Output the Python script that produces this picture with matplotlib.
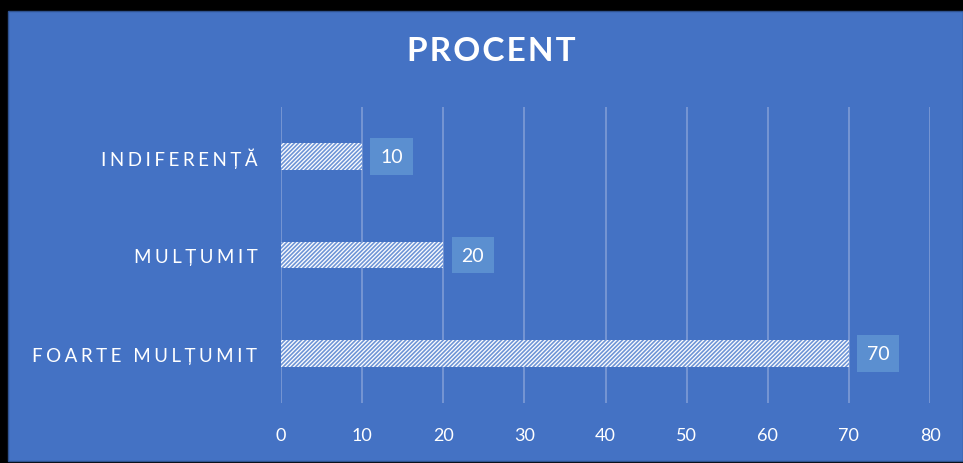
import matplotlib.pyplot as plt
from matplotlib.patches import Rectangle

categories = ["FOARTE MULȚUMIT", "MULȚUMIT", "INDIFERENȚĂ"]
values = [70, 20, 10]
xticks = [0, 10, 20, 30, 40, 50, 60, 70, 80]

BG = "#4472C4"
LABEL_BG = "#5B8FD0"
GRID = "#7E9CD6"
FONT = ["Lato", "DejaVu Sans"]


def spaced(s, sep="\u2009\u200a"):
    return sep.join(s)


plt.rcParams["hatch.linewidth"] = 1.2
W, H = 963, 464
fig = plt.figure(figsize=(W / 100, H / 100), dpi=100, facecolor="black")
fig.patches.append(Rectangle((8 / W, 2 / H), 1 - 8 / W, (462 - 12) / H,
                             transform=fig.transFigure, facecolor=BG,
                             edgecolor="#2F528F", linewidth=1, zorder=-1))

ax = fig.add_axes([281 / W, 1 - 404 / H, (930 - 281) / W, (404 - 108) / H])
ax.set_facecolor("none")

ypos = list(range(len(categories)))
ax.barh(ypos, values, height=0.27, facecolor="white", edgecolor="#6F95D6",
        hatch="////////", linewidth=0, zorder=3)

for y, v in zip(ypos, values):
    ax.annotate(str(v), (v, y), xytext=(13, 0), textcoords="offset points",
                va="center", ha="left", color="white", fontsize=14,
                family=FONT,
                bbox=dict(boxstyle="square,pad=0.5", facecolor=LABEL_BG,
                          edgecolor="none"), zorder=4)

ax.set_xlim(0, 80)
ax.set_ylim(-0.5, len(categories) - 0.5)
ax.set_xticks(xticks)
ax.set_xticklabels([str(t) for t in xticks], color="white", fontsize=13,
                   family=FONT)
ax.set_yticks(ypos)
ax.set_yticklabels([spaced(c) for c in categories], color="white",
                   fontsize=13.5, family=FONT)
ax.tick_params(axis="x", length=0, pad=17)
ax.tick_params(axis="y", length=0, pad=17)
ax.grid(axis="x", color=GRID, linewidth=1.2, zorder=1)
for s in ax.spines.values():
    s.set_visible(False)

fig.text(491 / W, 1 - 52 / H, spaced("PROCENT", "\u200a"), color="white",
         fontsize=24, fontweight="bold", ha="center", va="center",
         family=FONT)

fig.savefig("out.png", dpi=100, facecolor=fig.get_facecolor())
